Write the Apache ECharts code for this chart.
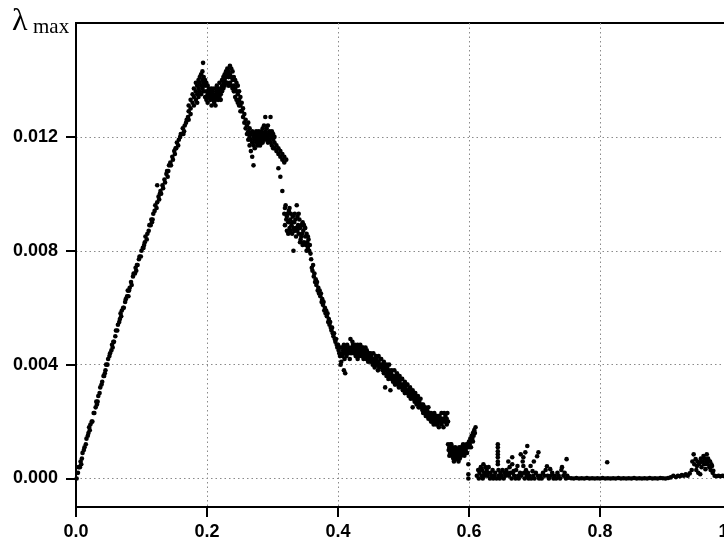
<!DOCTYPE html>
<html>
<head>
<meta charset="utf-8">
<script src="https://cdn.jsdelivr.net/npm/echarts@6/dist/echarts.min.js"></script>
<style>html,body{margin:0;padding:0;background:#fff;}#c{width:724px;height:544px;}</style>
</head>
<body>
<div id="c"></div>
<script>
var xTicks = [0, 0.2, 0.4, 0.6, 0.8, 1.0];
var yTicks = [0, 0.004, 0.008, 0.012];

var rise = [[0.001,0.0000],[0.003,0.0002],[0.004,0.0004],[0.006,0.0004],[0.007,0.0006],[0.008,0.0005],[0.009,0.0007],[0.010,0.0009],[0.012,0.0010],[0.013,0.0011],[0.015,0.0012],[0.016,0.0014],[0.018,0.0015],[0.019,0.0016],[0.020,0.0018],[0.021,0.0017],[0.022,0.0019],[0.024,0.0020],[0.025,0.0020],[0.027,0.0023],[0.028,0.0023],[0.030,0.0025],[0.031,0.0027],[0.032,0.0026],[0.033,0.0027],[0.034,0.0029],[0.036,0.0030],[0.037,0.0032],[0.039,0.0033],[0.040,0.0034],[0.042,0.0036],[0.043,0.0036],[0.044,0.0037],[0.045,0.0038],[0.046,0.0040],[0.048,0.0040],[0.049,0.0042],[0.051,0.0043],[0.052,0.0044],[0.054,0.0045],[0.055,0.0047],[0.056,0.0046],[0.057,0.0048],[0.058,0.0048],[0.060,0.0050],[0.061,0.0052],[0.063,0.0052],[0.064,0.0054],[0.066,0.0055],[0.067,0.0056],[0.068,0.0058],[0.069,0.0057],[0.070,0.0059],[0.072,0.0060],[0.073,0.0060],[0.075,0.0062],[0.076,0.0063],[0.078,0.0064],[0.079,0.0066],[0.080,0.0064],[0.081,0.0066],[0.082,0.0067],[0.084,0.0069],[0.085,0.0068],[0.087,0.0071],[0.088,0.0072],[0.090,0.0072],[0.091,0.0074],[0.092,0.0073],[0.093,0.0075],[0.094,0.0075],[0.096,0.0077],[0.097,0.0078],[0.099,0.0078],[0.100,0.0080],[0.102,0.0081],[0.103,0.0081],[0.104,0.0082],[0.105,0.0083],[0.106,0.0085],[0.108,0.0084],[0.109,0.0086],[0.111,0.0087],[0.112,0.0089],[0.114,0.0089],[0.115,0.0091],[0.116,0.0090],[0.117,0.0091],[0.118,0.0093],[0.120,0.0094],[0.121,0.0096],[0.123,0.0095],[0.124,0.0097],[0.124,0.0103],[0.126,0.0099],[0.127,0.0098],[0.128,0.0100],[0.129,0.0101],[0.130,0.0100],[0.132,0.0103],[0.133,0.0102],[0.135,0.0105],[0.136,0.0104],[0.138,0.0107],[0.139,0.0108],[0.140,0.0106],[0.141,0.0108],[0.142,0.0110],[0.144,0.0111],[0.145,0.0110],[0.147,0.0113],[0.148,0.0112],[0.150,0.0115],[0.151,0.0114],[0.152,0.0116],[0.153,0.0116],[0.154,0.0118],[0.156,0.0117],[0.157,0.0119],[0.159,0.0120],[0.160,0.0121],[0.162,0.0121],[0.163,0.0123],[0.164,0.0121],[0.165,0.0122],[0.166,0.0124],[0.168,0.0125],[0.169,0.0126],[0.171,0.0127],[0.172,0.0126]];

var peak = [[0.172,0.0129],[0.172,0.0131],[0.175,0.0130],[0.175,0.0133],[0.175,0.0128],[0.178,0.0132],[0.178,0.0135],[0.180,0.0131],[0.180,0.0134],[0.180,0.0137],[0.183,0.0133],[0.183,0.0136],[0.183,0.0139],[0.185,0.0135],[0.185,0.0138],[0.185,0.0132],[0.187,0.0137],[0.187,0.0140],[0.187,0.0134],[0.189,0.0136],[0.189,0.0141],[0.189,0.0139],[0.191,0.0138],[0.191,0.0142],[0.191,0.0135],[0.193,0.0140],[0.193,0.0137],[0.193,0.0143],[0.194,0.0146],[0.195,0.0139],[0.195,0.0136],[0.195,0.0141],[0.197,0.0138],[0.197,0.0134],[0.197,0.0140],[0.199,0.0136],[0.199,0.0139],[0.199,0.0133],[0.201,0.0135],[0.201,0.0138],[0.201,0.0132],[0.203,0.0137],[0.203,0.0134],[0.203,0.0136],[0.205,0.0133],[0.205,0.0136],[0.205,0.0135],[0.207,0.0134],[0.207,0.0131],[0.207,0.0137],[0.209,0.0135],[0.209,0.0133],[0.209,0.0136],[0.211,0.0132],[0.211,0.0134],[0.211,0.0137],[0.213,0.0135],[0.213,0.0133],[0.213,0.0131],[0.215,0.0136],[0.215,0.0134],[0.215,0.0138],[0.217,0.0133],[0.217,0.0135],[0.217,0.0137],[0.219,0.0136],[0.219,0.0134],[0.219,0.0139],[0.221,0.0137],[0.221,0.0135],[0.221,0.0133],[0.223,0.0138],[0.223,0.0136],[0.223,0.0140],[0.225,0.0139],[0.225,0.0137],[0.225,0.0141],[0.227,0.0140],[0.227,0.0138],[0.227,0.0142],[0.229,0.0141],[0.229,0.0139],[0.229,0.0143],[0.231,0.0142],[0.231,0.0144],[0.231,0.0139],[0.233,0.0141],[0.233,0.0143],[0.233,0.0138],[0.235,0.0145],[0.235,0.0142],[0.235,0.0139],[0.237,0.0144],[0.237,0.0141],[0.237,0.0138],[0.239,0.0143],[0.239,0.0140],[0.239,0.0137],[0.241,0.0141],[0.241,0.0138],[0.241,0.0136],[0.243,0.0140],[0.243,0.0137],[0.243,0.0134],[0.245,0.0139],[0.245,0.0136],[0.245,0.0133],[0.247,0.0138],[0.247,0.0135],[0.247,0.0132],[0.249,0.0136],[0.249,0.0133],[0.249,0.0131],[0.251,0.0134],[0.251,0.0131],[0.251,0.0129],[0.253,0.0132],[0.253,0.0129],[0.255,0.0130],[0.255,0.0127],[0.257,0.0128],[0.257,0.0125],[0.259,0.0126],[0.259,0.0123]];

var shoulder = [[0.261,0.0124],[0.261,0.0121],[0.263,0.0122],[0.263,0.0119],[0.263,0.0125],[0.265,0.0120],[0.265,0.0123],[0.265,0.0117],[0.267,0.0119],[0.267,0.0121],[0.267,0.0115],[0.269,0.0118],[0.269,0.0113],[0.269,0.0122],[0.271,0.0110],[0.271,0.0120],[0.271,0.0117],[0.273,0.0119],[0.273,0.0116],[0.273,0.0121],[0.275,0.0118],[0.275,0.0120],[0.275,0.0122],[0.277,0.0117],[0.277,0.0119],[0.277,0.0121],[0.279,0.0120],[0.279,0.0118],[0.279,0.0122],[0.281,0.0121],[0.281,0.0119],[0.281,0.0117],[0.283,0.0122],[0.283,0.0120],[0.283,0.0118],[0.285,0.0123],[0.285,0.0120],[0.285,0.0118],[0.287,0.0124],[0.287,0.0121],[0.287,0.0119],[0.289,0.0127],[0.289,0.0122],[0.289,0.0120],[0.291,0.0123],[0.291,0.0121],[0.291,0.0119],[0.293,0.0124],[0.293,0.0120],[0.293,0.0118],[0.295,0.0122],[0.295,0.0119],[0.295,0.0121],[0.297,0.0127],[0.297,0.0121],[0.297,0.0118],[0.299,0.0120],[0.299,0.0117],[0.299,0.0122],[0.301,0.0119],[0.301,0.0121],[0.301,0.0116],[0.303,0.0118],[0.303,0.0120],[0.303,0.0116],[0.306,0.0117],[0.306,0.0115],[0.309,0.0116],[0.309,0.0114],[0.309,0.0109],[0.312,0.0115],[0.312,0.0113],[0.312,0.0106],[0.315,0.0114],[0.315,0.0112],[0.315,0.0101],[0.318,0.0113],[0.318,0.0111],[0.321,0.0112]];

var drop = [[0.318,0.0093],[0.319,0.0089],[0.319,0.0095],[0.320,0.0096],[0.321,0.0091],[0.322,0.0087],[0.322,0.0092],[0.323,0.0093],[0.324,0.0090],[0.324,0.0086],[0.325,0.0094],[0.326,0.0088],[0.326,0.0095],[0.327,0.0091],[0.328,0.0093],[0.328,0.0087],[0.329,0.0089],[0.330,0.0086],[0.330,0.0090],[0.331,0.0092],[0.332,0.0080],[0.332,0.0088],[0.333,0.0090],[0.334,0.0087],[0.334,0.0093],[0.335,0.0091],[0.336,0.0088],[0.336,0.0085],[0.337,0.0096],[0.338,0.0092],[0.338,0.0087],[0.339,0.0089],[0.340,0.0086],[0.340,0.0093],[0.341,0.0091],[0.342,0.0088],[0.342,0.0083],[0.343,0.0084],[0.344,0.0089],[0.344,0.0085],[0.345,0.0086],[0.346,0.0090],[0.346,0.0082],[0.347,0.0087],[0.348,0.0083],[0.348,0.0089],[0.349,0.0088],[0.350,0.0085],[0.350,0.0088],[0.351,0.0082],[0.352,0.0086],[0.352,0.0080],[0.353,0.0083],[0.354,0.0081],[0.354,0.0085],[0.355,0.0084],[0.356,0.0080],[0.357,0.0082],[0.358,0.0079],[0.359,0.0077],[0.360,0.0074]];

var descent = [[0.361,0.0073],[0.362,0.0075],[0.363,0.0071],[0.364,0.0072],[0.365,0.0069],[0.366,0.0070],[0.367,0.0068],[0.368,0.0069],[0.369,0.0066],[0.370,0.0067],[0.371,0.0065],[0.372,0.0066],[0.373,0.0064],[0.374,0.0065],[0.375,0.0062],[0.376,0.0063],[0.377,0.0061],[0.378,0.0062],[0.379,0.0059],[0.380,0.0060],[0.381,0.0058],[0.382,0.0059],[0.383,0.0057],[0.384,0.0058],[0.385,0.0055],[0.386,0.0056],[0.387,0.0054],[0.388,0.0055],[0.389,0.0053],[0.390,0.0052],[0.391,0.0053],[0.392,0.0051],[0.393,0.0050],[0.394,0.0051],[0.395,0.0049],[0.396,0.0048],[0.397,0.0049],[0.398,0.0047],[0.399,0.0046],[0.400,0.0047],[0.401,0.0045],[0.402,0.0044],[0.403,0.0043],[0.404,0.0046],[0.404,0.0040],[0.405,0.0041],[0.406,0.0044],[0.409,0.0038],[0.411,0.0037]];

var plateau = [[0.406,0.0046],[0.407,0.0043],[0.408,0.0045],[0.409,0.0047],[0.410,0.0044],[0.410,0.0042],[0.411,0.0046],[0.412,0.0045],[0.413,0.0043],[0.414,0.0047],[0.414,0.0044],[0.415,0.0045],[0.416,0.0044],[0.417,0.0046],[0.418,0.0045],[0.418,0.0042],[0.419,0.0049],[0.420,0.0044],[0.421,0.0046],[0.422,0.0045],[0.422,0.0048],[0.423,0.0047],[0.424,0.0044],[0.425,0.0046],[0.426,0.0045],[0.426,0.0047],[0.427,0.0043],[0.428,0.0046],[0.429,0.0044],[0.430,0.0047],[0.430,0.0042],[0.431,0.0045],[0.432,0.0043],[0.433,0.0046],[0.434,0.0044],[0.434,0.0047],[0.435,0.0045],[0.436,0.0043],[0.437,0.0046],[0.438,0.0044],[0.438,0.0046],[0.439,0.0042],[0.440,0.0045],[0.441,0.0043],[0.442,0.0044],[0.442,0.0046],[0.443,0.0042],[0.444,0.0045],[0.445,0.0043],[0.446,0.0041],[0.446,0.0044],[0.447,0.0044],[0.448,0.0042],[0.449,0.0043],[0.450,0.0041],[0.450,0.0044],[0.451,0.0043],[0.452,0.0042],[0.453,0.0040],[0.454,0.0042],[0.454,0.0044],[0.455,0.0041],[0.456,0.0039],[0.457,0.0041],[0.458,0.0040],[0.458,0.0043]];

var tail = [[0.459,0.0042],[0.460,0.0040],[0.461,0.0038],[0.462,0.0041],[0.462,0.0043],[0.463,0.0039],[0.464,0.0040],[0.465,0.0042],[0.466,0.0039],[0.466,0.0042],[0.467,0.0040],[0.468,0.0038],[0.469,0.0040],[0.470,0.0037],[0.470,0.0041],[0.471,0.0039],[0.472,0.0032],[0.473,0.0038],[0.474,0.0036],[0.474,0.0040],[0.475,0.0039],[0.476,0.0037],[0.477,0.0035],[0.478,0.0038],[0.478,0.0040],[0.479,0.0036],[0.480,0.0031],[0.481,0.0037],[0.482,0.0035],[0.482,0.0038],[0.483,0.0036],[0.484,0.0034],[0.485,0.0036],[0.486,0.0035],[0.486,0.0038],[0.487,0.0033],[0.488,0.0035],[0.489,0.0034],[0.490,0.0036],[0.490,0.0037],[0.491,0.0033],[0.492,0.0035],[0.493,0.0032],[0.494,0.0034],[0.494,0.0036],[0.495,0.0033],[0.496,0.0035],[0.497,0.0032],[0.498,0.0033],[0.498,0.0035],[0.499,0.0031],[0.500,0.0033],[0.501,0.0032],[0.502,0.0030],[0.502,0.0034],[0.503,0.0032],[0.504,0.0031],[0.505,0.0033],[0.506,0.0030],[0.506,0.0033],[0.507,0.0031],[0.508,0.0029],[0.509,0.0031],[0.510,0.0030],[0.510,0.0032],[0.511,0.0028],[0.512,0.0030],[0.513,0.0029],[0.514,0.0025],[0.514,0.0031],[0.515,0.0028],[0.516,0.0030],[0.517,0.0027],[0.518,0.0029],[0.518,0.0030],[0.519,0.0028],[0.520,0.0026],[0.521,0.0028],[0.522,0.0027],[0.522,0.0029],[0.523,0.0025],[0.524,0.0027],[0.525,0.0026],[0.526,0.0028],[0.526,0.0025],[0.527,0.0025],[0.528,0.0026],[0.529,0.0024],[0.530,0.0026],[0.530,0.0023],[0.531,0.0025],[0.532,0.0023],[0.533,0.0025],[0.534,0.0024],[0.534,0.0022],[0.535,0.0022],[0.536,0.0024],[0.537,0.0023],[0.538,0.0025],[0.538,0.0021],[0.539,0.0022],[0.540,0.0023],[0.541,0.0021],[0.542,0.0023],[0.542,0.0020],[0.543,0.0022],[0.544,0.0020],[0.545,0.0022],[0.546,0.0021],[0.546,0.0019],[0.547,0.0023],[0.548,0.0021],[0.549,0.0020],[0.550,0.0022],[0.550,0.0019],[0.551,0.0021],[0.552,0.0019],[0.553,0.0021],[0.554,0.0020],[0.554,0.0018],[0.555,0.0022],[0.556,0.0020],[0.557,0.0021],[0.558,0.0019],[0.558,0.0023],[0.559,0.0021],[0.560,0.0020],[0.561,0.0018],[0.562,0.0021],[0.562,0.0023],[0.563,0.0020],[0.564,0.0022],[0.565,0.0020],[0.566,0.0021],[0.566,0.0019],[0.567,0.0023],[0.568,0.0020]];

var dip = [[0.568,0.0012],[0.569,0.0010],[0.570,0.0011],[0.570,0.0008],[0.571,0.0009],[0.572,0.0012],[0.573,0.0010],[0.573,0.0012],[0.574,0.0008],[0.575,0.0011],[0.576,0.0009],[0.576,0.0007],[0.577,0.0006],[0.577,0.0010],[0.578,0.0008],[0.579,0.0011],[0.579,0.0007],[0.580,0.0009],[0.581,0.0007],[0.582,0.0010],[0.582,0.0007],[0.583,0.0008],[0.584,0.0006],[0.585,0.0009],[0.585,0.0011],[0.586,0.0007],[0.587,0.0010],[0.588,0.0008],[0.588,0.0011],[0.589,0.0009],[0.590,0.0011],[0.591,0.0009],[0.591,0.0012],[0.592,0.0010],[0.593,0.0008],[0.594,0.0011],[0.594,0.0009],[0.595,0.0010],[0.596,0.0012],[0.597,0.0011],[0.597,0.0009],[0.598,0.0012],[0.599,0.0005],[0.599,0.00015],[0.599,0.0000],[0.600,0.0013],[0.600,0.0011],[0.601,0.0012],[0.602,0.0014],[0.603,0.0013],[0.603,0.0011],[0.604,0.0015],[0.605,0.0014],[0.606,0.0016],[0.606,0.0013],[0.607,0.0015],[0.608,0.0017],[0.609,0.0016],[0.610,0.0018]];

var low = [[0.612,0.0001],[0.614,0.0003],[0.615,0.0000],[0.616,0.0002],[0.618,0.0004],[0.619,0.0001],[0.620,0.0003],[0.621,0.0000],[0.622,0.0005],[0.623,0.0002],[0.624,0.0001],[0.625,0.0004],[0.627,0.0003],[0.628,0.0001],[0.629,0.0002],[0.630,0.0004],[0.632,0.0000],[0.633,0.0002],[0.634,0.0001],[0.636,0.0003],[0.637,0.0000],[0.639,0.0001],[0.640,0.0002],[0.642,0.0000],[0.644,0.0012],[0.644,0.0011],[0.644,0.00096],[0.644,0.00085],[0.644,0.00075],[0.644,0.0006],[0.644,0.0005],[0.645,0.0003],[0.645,0.0001],[0.647,0.0000],[0.648,0.0002],[0.650,0.0001],[0.651,0.0003],[0.653,0.0000],[0.654,0.0002],[0.656,0.0001],[0.657,0.0003],[0.658,0.0002],[0.660,0.0006],[0.661,0.0001],[0.662,0.0004],[0.663,0.0002],[0.665,0.0000],[0.666,0.00075],[0.666,0.0005],[0.667,0.0002],[0.668,0.00026],[0.669,0.0001],[0.671,0.0000],[0.672,0.0003],[0.674,0.00044],[0.675,0.0001],[0.676,0.0000],[0.678,0.0002],[0.679,0.00085],[0.680,0.0001],[0.682,0.0006],[0.683,0.00075],[0.683,0.00044],[0.684,0.0002],[0.685,0.0000],[0.686,0.00092],[0.687,0.0003],[0.688,0.0001],[0.689,0.00114],[0.690,0.0002],[0.691,0.0000],[0.692,0.0001],[0.694,0.00044],[0.695,0.0000],[0.697,0.00026],[0.698,0.0001],[0.699,0.0006],[0.700,0.0000],[0.702,0.0002],[0.704,0.00078],[0.705,0.0001],[0.706,0.00092],[0.707,0.0000],[0.709,0.0001],[0.711,0.0000],[0.713,0.0002],[0.715,0.0001],[0.717,0.0003],[0.719,0.00043],[0.720,0.0001],[0.722,0.0000],[0.724,0.00033],[0.725,0.0001],[0.727,0.0002],[0.729,0.0000],[0.731,0.0001],[0.733,0.0000],[0.735,0.0002],[0.737,0.0001],[0.739,0.0000],[0.741,0.0003],[0.742,0.0004],[0.744,0.0001],[0.746,0.0002],[0.748,0.0000],[0.749,0.00068],[0.750,0.0001]];

var flat = [[0.752,0.00003],[0.756,0.00001],[0.760,0.0000],[0.764,0.00002],[0.768,0.0000],[0.772,0.00001],[0.776,0.0000],[0.780,0.00002],[0.784,0.0000],[0.788,0.00001],[0.792,0.0000],[0.796,0.00001],[0.800,0.0000],[0.804,0.00002],[0.808,0.0000],[0.811,0.00057],[0.812,0.00001],[0.816,0.0000],[0.820,0.00001],[0.824,0.0000],[0.828,0.00002],[0.832,0.0000],[0.836,0.00001],[0.840,0.0000],[0.844,0.00001],[0.848,0.0000],[0.852,0.00002],[0.856,0.0000],[0.860,0.00001],[0.864,0.0000],[0.868,0.00001],[0.872,0.0000],[0.876,0.00002],[0.880,0.0000],[0.884,0.00001],[0.888,0.0000],[0.892,0.00002],[0.896,0.00001],[0.900,0.0000],[0.904,0.00002],[0.908,0.00004]];

var bump = [[0.912,0.0001],[0.916,0.00005],[0.919,0.0001],[0.922,0.00008],[0.925,0.00012],[0.928,0.0001],[0.931,0.00015],[0.934,0.0001],[0.937,0.00018],[0.940,0.0003],[0.941,0.0006],[0.943,0.00085],[0.944,0.0005],[0.946,0.00068],[0.947,0.0003],[0.948,0.00044],[0.949,0.0006],[0.950,0.0002],[0.951,0.0005],[0.953,0.00057],[0.953,0.00015],[0.954,0.0007],[0.955,0.0004],[0.956,0.0006],[0.958,0.00079],[0.959,0.0005],[0.960,0.0007],[0.961,0.00033],[0.962,0.0006],[0.963,0.00085],[0.964,0.0005],[0.965,0.0007],[0.966,0.00062],[0.967,0.0004],[0.968,0.0006],[0.969,0.0003],[0.970,0.0005],[0.971,0.00044],[0.972,0.0002],[0.973,0.00027],[0.975,0.0001],[0.978,0.00008],[0.981,0.0001],[0.984,0.00008],[0.987,0.0001],[0.990,0.00008],[0.993,0.0001],[0.996,0.0001]];

var allPoints = [].concat(rise, peak, shoulder, drop, descent, plateau, tail, dip, low, flat, bump);

var chart = echarts.init(document.getElementById('c'), null, {renderer: 'canvas'});
var labelFont = {color: '#000', fontFamily: 'Liberation Sans, Arial, sans-serif', fontWeight: 'bold', fontSize: 18};
var gridLine = {show: true, lineStyle: {color: '#8a8a8a', width: 1, type: [1.5, 3]}};
chart.setOption({
  animation: false,
  backgroundColor: '#fff',
  grid: {left: 76, right: -7, top: 23, bottom: 37, show: true, borderColor: '#000', borderWidth: 2, containLabel: false, outerBoundsMode: 'none'},
  xAxis: {
    type: 'value', min: 0, max: 1.0, interval: 0.2,
    axisLine: {show: true, onZero: false, lineStyle: {color: '#000', width: 2}},
    axisTick: {show: true, inside: false, length: 10, lineStyle: {color: '#000', width: 2}},
    axisLabel: Object.assign({margin: 16, hideOverlap: false, showMaxLabel: true, formatter: function (v) { return v.toFixed(1); }}, labelFont),
    splitLine: gridLine
  },
  yAxis: {
    type: 'value', min: -0.001, max: 0.016,
    axisLine: {show: true, onZero: false, lineStyle: {color: '#000', width: 2}},
    axisTick: {show: true, inside: false, length: 10, customValues: yTicks, lineStyle: {color: '#000', width: 2}},
    axisLabel: Object.assign({margin: 18, customValues: yTicks, formatter: function (v) { return v.toFixed(3); }}, labelFont),
    splitLine: gridLine
  },
  graphic: [
    {type: 'text', left: 12, top: 6, style: {text: 'λ', font: '32px "Liberation Serif", "Times New Roman", serif', fill: '#000'}},
    {type: 'text', left: 33, top: 17, style: {text: 'max', font: '21px "Liberation Serif", "Times New Roman", serif', fill: '#000'}}
  ],
  series: [{
    type: 'scatter',
    data: allPoints,
    symbol: 'circle',
    symbolSize: 4.6,
    itemStyle: {color: '#000', opacity: 1},
    silent: true
  }]
});
</script>
</body>
</html>
